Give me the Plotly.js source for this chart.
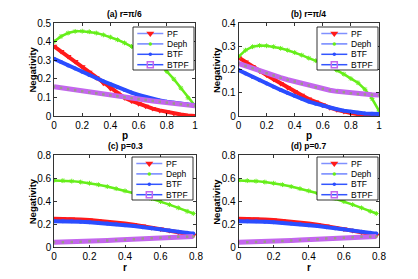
<!DOCTYPE html>
<html>
<head>
<meta charset="utf-8">
<script src="https://cdn.plot.ly/plotly-3.0.1.min.js"></script>
<style>html,body{margin:0;padding:0;background:#fff;}#chart{width:418px;height:279px;}</style>
</head>
<body>
<div id="chart"></div>
<script>
// ---- data ----
var p = [0,0.05,0.1,0.15,0.2,0.25,0.3,0.35,0.4,0.45,0.5,0.55,0.6,0.65,0.7,0.75,0.8,0.85,0.9,0.95,1];
var r = [0,0.05,0.1,0.15,0.2,0.25,0.3,0.35,0.4,0.45,0.5,0.55,0.6,0.65,0.7,0.75,0.785];
var seriesNames = ["PF","Deph","BTF","BTPF"];
var panelTitles = ["(a) r=π/6","(b) r=π/4","(c) p=0.3","(d) p=0.7"];
var xLabels = ["p","p","r","r"];
var yLabel = "Negativity";

var a_PF   = [0.375,0.347,0.320,0.293,0.265,0.235,0.205,0.176,0.148,0.122,0.098,0.081,0.066,0.052,0.040,0.030,0.021,0.014,0.008,0.003,0.0];
var a_Deph = [0.400,0.428,0.446,0.455,0.456,0.453,0.446,0.436,0.424,0.410,0.393,0.374,0.353,0.330,0.305,0.275,0.240,0.198,0.150,0.098,0.055];
var a_BTF  = [0.308,0.290,0.272,0.255,0.238,0.221,0.204,0.187,0.171,0.155,0.140,0.126,0.113,0.102,0.092,0.084,0.077,0.071,0.066,0.062,0.059];
var a_BTPF = [0.157,0.151,0.145,0.139,0.133,0.127,0.122,0.116,0.111,0.106,0.101,0.096,0.091,0.086,0.081,0.076,0.072,0.067,0.063,0.058,0.055];

var b_PF   = [0.252,0.232,0.213,0.194,0.176,0.158,0.140,0.122,0.105,0.089,0.073,0.060,0.047,0.036,0.027,0.019,0.013,0.008,0.004,0.001,0.0];
var b_Deph = [0.255,0.283,0.298,0.303,0.302,0.298,0.291,0.283,0.273,0.262,0.249,0.238,0.226,0.212,0.197,0.180,0.161,0.143,0.115,0.075,0.022];
var b_BTF  = [0.198,0.183,0.168,0.154,0.140,0.126,0.112,0.099,0.086,0.074,0.062,0.053,0.044,0.036,0.029,0.023,0.018,0.014,0.011,0.010,0.009];
var b_BTPF = [0.226,0.215,0.205,0.194,0.184,0.174,0.165,0.156,0.148,0.139,0.131,0.124,0.117,0.111,0.106,0.102,0.098,0.095,0.092,0.091,0.090];

var c_PF   = [0.248,0.248,0.246,0.242,0.238,0.232,0.225,0.217,0.208,0.198,0.186,0.174,0.160,0.146,0.132,0.117,0.107];
var c_Deph = [0.580,0.578,0.574,0.566,0.556,0.543,0.527,0.509,0.490,0.469,0.447,0.423,0.397,0.371,0.343,0.313,0.294];
var c_BTF  = [0.228,0.228,0.226,0.223,0.219,0.214,0.208,0.201,0.193,0.185,0.176,0.167,0.157,0.147,0.137,0.127,0.120];
var c_BTPF = [0.045,0.046,0.048,0.050,0.053,0.056,0.060,0.064,0.068,0.072,0.077,0.081,0.085,0.089,0.092,0.094,0.095];

var d_PF   = [0.248,0.248,0.246,0.242,0.238,0.232,0.225,0.217,0.208,0.198,0.186,0.174,0.160,0.146,0.132,0.117,0.107];
var d_Deph = [0.580,0.578,0.574,0.566,0.556,0.543,0.527,0.509,0.490,0.469,0.447,0.423,0.397,0.371,0.343,0.313,0.294];
var d_BTF  = [0.228,0.228,0.226,0.223,0.219,0.214,0.208,0.201,0.193,0.185,0.176,0.167,0.157,0.147,0.137,0.127,0.120];
var d_BTPF = [0.045,0.046,0.048,0.050,0.053,0.056,0.060,0.064,0.068,0.072,0.077,0.081,0.085,0.089,0.092,0.094,0.095];

var yRanges = [[0,0.5],[0,0.4],[0,0.8],[0,0.8]];
var yDtick = [0.1,0.1,0.2,0.2];
var xRanges = [[0,1],[0,1],[0,0.8],[0,0.8]];

// ---- styles ----
var RED = "#ff1a1a", GREEN = "#66ee1a", BLUE = "#2b4dff", PURPLE = "#c466ee";
var FONT = "Liberation Sans, Arial, Helvetica, sans-serif";

var panels = [
  {x: p, s: [a_PF, a_Deph, a_BTF, a_BTPF]},
  {x: p, s: [b_PF, b_Deph, b_BTF, b_BTPF]},
  {x: r, s: [c_PF, c_Deph, c_BTF, c_BTPF]},
  {x: r, s: [d_PF, d_Deph, d_BTF, d_BTPF]}
];

// pixel geometry of axes boxes (W=418, H=279)
var W = 418, H = 279;
var boxes = [
  {l:54, r:195, t:23, b:116},
  {l:238.5, r:379, t:23, b:116},
  {l:54, r:196, t:155, b:247.5},
  {l:238.5, r:379, t:155, b:247.5}
];
// legend box top-left corners (px)
var legPos = [{x:133, y:27}, {x:317, y:27}, {x:132, y:157}, {x:317, y:157}];
var LEG_W = 61, LEG_H = 43, LEG_ROW0 = 6.5, LEG_ROWSTEP = 10.4;

var data = [];
var layout = {
  width: W, height: H,
  margin: {l:0, r:0, t:0, b:0},
  paper_bgcolor: "#fff", plot_bgcolor: "rgba(0,0,0,0)",
  font: {family: FONT, size: 10, color: "#000"},
  showlegend: false,
  annotations: []
};

var axCommon = {
  showline: true, linecolor: "#000", linewidth: 0.8, mirror: "allticks",
  ticks: "inside", ticklen: 3, tickcolor: "#000", tickwidth: 0.8,
  showgrid: false, zeroline: false, fixedrange: true,
  tickfont: {family: FONT, size: 10, color: "#000"}
};

var legendTraces = [];

panels.forEach(function(pan, i) {
  var n = i + 1;
  var xa = n === 1 ? "x" : "x" + n;
  var ya = n === 1 ? "y" : "y" + n;
  var xs = pan.x;
  data.push({x: xs, y: pan.s[0], xaxis: xa, yaxis: ya, mode: "lines+markers",
    line: {color: RED, width: 4}, marker: {symbol: "triangle-down", size: 6, color: RED}});
  data.push({x: xs, y: pan.s[1], xaxis: xa, yaxis: ya, mode: "lines+markers",
    line: {color: GREEN, width: 2.5}, marker: {symbol: "asterisk-open", size: 4, color: GREEN, line: {color: GREEN, width: 1}}});
  data.push({x: xs, y: pan.s[2], xaxis: xa, yaxis: ya, mode: "lines+markers",
    line: {color: BLUE, width: 4}, marker: {symbol: "circle", size: 4, color: BLUE}});
  data.push({x: xs, y: pan.s[3], xaxis: xa, yaxis: ya, mode: "lines+markers",
    line: {color: PURPLE, width: 5}, marker: {symbol: "square", size: 2.5, color: "#9a9a8a"}});

  var b = boxes[i];
  layout["xaxis" + (n === 1 ? "" : n)] = Object.assign({}, axCommon, {
    domain: [b.l / W, b.r / W], anchor: ya, range: xRanges[i], dtick: 0.2, tick0: 0, tickformat: "~g"
  });
  layout["yaxis" + (n === 1 ? "" : n)] = Object.assign({}, axCommon, {
    domain: [1 - b.b / H, 1 - b.t / H], anchor: xa, range: yRanges[i], dtick: yDtick[i], tick0: 0, tickformat: "~g"
  });

  var cx = (b.l + b.r) / 2 / W;
  layout.annotations.push({text: "<b>" + panelTitles[i] + "</b>", xref: "paper", yref: "paper",
    x: cx, y: 1 - (b.t - 9) / H, xanchor: "center", yanchor: "middle", showarrow: false,
    font: {family: FONT, size: 8.5, color: "#000"}});
  layout.annotations.push({text: "<b>" + xLabels[i] + "</b>", xref: "paper", yref: "paper",
    x: cx, y: 1 - (b.b + 20) / H, xanchor: "center", yanchor: "middle", showarrow: false,
    font: {family: FONT, size: 10, color: "#000"}});
  layout.annotations.push({text: "<b>" + yLabel + "</b>", xref: "paper", yref: "paper",
    x: (b.l - 22) / W, y: 1 - (b.t + b.b) / 2 / H, xanchor: "center", yanchor: "middle",
    textangle: -90, showarrow: false,
    font: {family: FONT, size: 9.5, color: "#000"}});

  // ---- legend (drawn on a pixel overlay axis) ----
  var L = legPos[i];
  legendTraces.push({x: [L.x, L.x + LEG_W, L.x + LEG_W, L.x, L.x], y: [L.y, L.y, L.y + LEG_H, L.y + LEG_H, L.y],
    xaxis: "x5", yaxis: "y5", mode: "lines", fill: "toself", fillcolor: "#fff",
    line: {color: "#000", width: 0.8}, hoverinfo: "skip"});
  var legMarkers = [
    {symbol: "triangle-down", size: 7, color: RED},
    {symbol: "circle", size: 3.5, color: GREEN},
    {symbol: "circle", size: 3.5, color: BLUE},
    {symbol: "square-open", size: 6, color: PURPLE, line: {color: PURPLE, width: 1.5}}
  ];
  var legLine = ["#8090ff", "#7085ff", "#3355ff", "#3355ff"];
  seriesNames.forEach(function(nm, k) {
    var yy = L.y + LEG_ROW0 + LEG_ROWSTEP * k;
    legendTraces.push({x: [L.x + 4.3, L.x + 30.3], y: [yy, yy], xaxis: "x5", yaxis: "y5",
      mode: "lines", line: {color: legLine[k], width: 1.5}, hoverinfo: "skip"});
    legendTraces.push({x: [L.x + 17.3], y: [yy], xaxis: "x5", yaxis: "y5",
      mode: "markers", marker: legMarkers[k], hoverinfo: "skip"});
    layout.annotations.push({text: nm, xref: "x5", yref: "y5", x: L.x + 32, y: yy,
      xanchor: "left", yanchor: "middle", showarrow: false,
      font: {family: FONT, size: 8.5, color: "#000"}});
  });
});

layout.xaxis5 = {domain: [0, 1], range: [0, W], visible: false, fixedrange: true, anchor: "y5"};
layout.yaxis5 = {domain: [0, 1], range: [H, 0], visible: false, fixedrange: true, anchor: "x5"};

data = data.concat(legendTraces);

Plotly.newPlot("chart", data, layout, {staticPlot: true, displayModeBar: false});
</script>
</body>
</html>
